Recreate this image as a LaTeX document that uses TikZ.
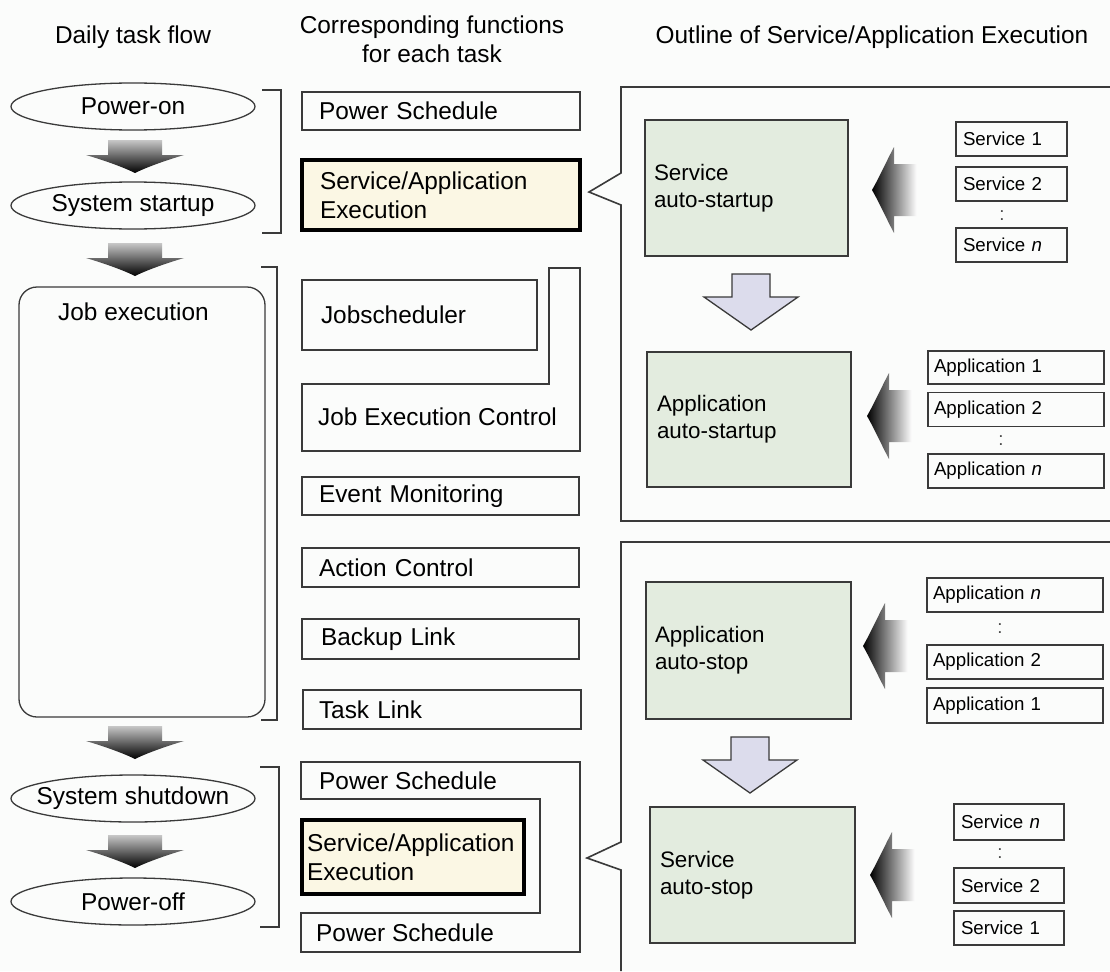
\documentclass[tikz,border=0pt]{standalone}
\usepackage{fontspec}
\setmainfont{Liberation Sans}
\usetikzlibrary{shapes.geometric,calc}
\definecolor{bgc}{HTML}{FBFCFB}
\definecolor{ln}{HTML}{3A3A3A}
\definecolor{cream}{HTML}{FBF7E4}
\definecolor{gfill}{HTML}{E3ECDF}
\definecolor{lav}{HTML}{DCDCEC}
\newcommand{\mainf}{\fontsize{24.4}{29}\selectfont}
\newcommand{\medf}{\fontsize{22.4}{27}\selectfont}
\newcommand{\smf}{\fontsize{18.7}{22}\selectfont}
\tikzset{
  tb/.style n args={3}{rectangle, draw=ln, line width=1.3pt, inner ysep=0pt,
     minimum width=#1pt, minimum height=#2pt, inner xsep=#3pt,
     text width={#1pt-2*#3pt}, align=left, font=\mainf},
  thick box/.style={draw=black, line width=3.5pt, fill=cream},
  gbox/.style={fill=gfill, font=\medf},
  sbox/.style={font=\smf},
  ell/.style={ellipse, draw=ln, line width=1.3pt, minimum width=244pt,
     minimum height=47pt, inner sep=0pt, label={[font=\mainf, inner sep=0pt]center:#1}},
  lbl/.style={anchor=west, inner sep=0pt, font=\mainf},
  hdr/.style={font=\mainf, align=center, inner sep=0pt},
  dots/.style={font=\smf, text=black!70, inner sep=0pt},
  outline/.style={draw=ln, line width=1.3pt},
  panel/.style={draw=ln, line width=1.6pt},
  darrow/.pic={\path[top color=white!78!black, bottom color=black]
     (-27,0) -- (27,0) -- (27,15) -- (49,15) .. controls (32,20) and (12,27) .. (0,33)
     .. controls (-12,27) and (-32,20) .. (-49,15) -- (-27,15) -- cycle;},
  larrow/.pic={\path[left color=black, right color=white]
     (0,0) .. controls (8,-14) and (15,-30) .. (22,-43) -- (22,-26) -- (45,-26)
     -- (45,26) -- (22,26) -- (22,43) .. controls (15,30) and (8,14) .. (0,0) -- cycle;},
  parrow/.pic={\path[fill=lav, draw=ln, line width=1.3pt]
     (-19,0) -- (19,0) -- (19,23) -- (47,23) -- (0,56) -- (-47,23) -- (-19,23) -- cycle;}
}
\begin{document}
\begin{tikzpicture}[x=1pt, y=-1pt]
\useasboundingbox (0,0) rectangle (1110,971);
\fill[bgc] (0,0) rectangle (1110,971);

% headers
\node[hdr] (h1) at (133,37) {Daily task flow};
\node[hdr] (h2) at (432,39) {Corresponding functions\\for each task};
\node[hdr] (h3) at (872,37) {Outline of Service/Application Execution};

% left column
\node[ell={Power-on}] (po) at (133,106.5) {};
\node[ell={System startup}] (sst) at (133,205.5) {};
\node[draw=ln, line width=1.3pt, rounded corners=18pt, minimum width=246pt,
      minimum height=430pt, inner sep=0pt] (je) at (142,502) {};
\node[lbl] (jet) at (58,312) {Job execution};
\node[ell={System shutdown}] (ssd) at (133,798.5) {};
\node[ell={Power-off}] (pof) at (133,901.5) {};

\pic at (135,140) {darrow};
\pic at (135,243) {darrow};
\pic at (135,726) {darrow};
\pic at (135,835) {darrow};

% brackets
\draw[outline] (262,90) -- (281,90) -- (281,233) -- (262,233);
\draw[outline] (261,267) -- (277,267) -- (277,720) -- (261,720);
\draw[outline] (260,767) -- (279,767) -- (279,927) -- (260,927);

% middle column
\node[tb={278}{38}{17}] (ps1) at (441,111) {Power Schedule};
\node[tb={278}{70}{18}, thick box] (sae1) at (441,195) {Service/Application\\Execution};
\node[tb={235}{70}{19}] (jobs) at (419.5,315) {Jobscheduler};
\draw[outline] (302,384) -- (549,384) -- (549,268) -- (580,268) -- (580,451) -- (302,451) -- cycle;
\node[lbl] (jec) at (318,417) {Job Execution Control};
\node[tb={277}{38}{17}] (em) at (440.5,496) {Event Monitoring};
\node[tb={277}{39}{17}] (ac) at (440.5,567.5) {Action Control};
\node[tb={277}{40}{19}] (bl) at (440.5,639) {Backup Link};
\node[tb={278}{39}{16}] (tl) at (442,709.5) {Task Link};
\draw[outline] (301,762) -- (580,762) -- (580,952) -- (301,952) -- (301,913)
   -- (540,913) -- (540,799) -- (301,799) -- cycle;
\node[lbl] (ps2) at (319,781) {Power Schedule};
\node[tb={222}{74}{5}, thick box] (sae2) at (413,857) {Service/Application\\Execution};
\node[lbl] (ps3) at (316,933) {Power Schedule};

% right panels
\draw[panel] (1110,87) -- (621,87) -- (621,173) -- (589,192) -- (621,205) -- (621,521) -- (1110,521);
\draw[panel] (1110,542) -- (621,542) -- (621,842) -- (587,858) -- (621,870) -- (621,971);

% upper panel
\node[tb={203}{136}{9}, gbox] (sas) at (746.5,188) {Service\\auto-startup};
\node[tb={204}{135}{10}, gbox] (aas) at (749,419.5) {Application\\auto-startup};
\pic at (751,274) {parrow};
\pic at (872,190) {larrow};
\pic at (867,416) {larrow};
\node[tb={111}{34}{7}, sbox] (us1) at (1011.5,139) {Service 1};
\node[tb={111}{34}{7}, sbox] (us2) at (1011.5,184) {Service 2};
\node[dots] (ud1) at (1002,216) {:};
\node[tb={111}{34}{7}, sbox] (usn) at (1011.5,245) {Service \textit{n}};
\node[tb={176}{33}{6}, sbox] (ua1) at (1016,367.5) {Application 1};
\node[tb={176}{34}{6}, sbox] (ua2) at (1016,409.5) {Application 2};
\node[dots] (ud2) at (1001,441) {:};
\node[tb={176}{34}{6}, sbox] (uan) at (1016,471) {Application \textit{n}};

% lower panel
\node[tb={205}{137}{9}, gbox] (aast) at (748.5,650.5) {Application\\auto-stop};
\node[tb={205}{136}{10}, gbox] (sast) at (752.5,875) {Service\\auto-stop};
\pic at (750,737) {parrow};
\pic at (863,646) {larrow};
\pic at (870,875) {larrow};
\node[tb={176}{34}{6}, sbox] (lan) at (1015,595) {Application \textit{n}};
\node[dots] (ld1) at (1000,629) {:};
\node[tb={176}{34}{6}, sbox] (la2) at (1015,662) {Application 2};
\node[tb={176}{35}{6}, sbox] (la1) at (1015,705.5) {Application 1};
\node[tb={110}{36}{7}, sbox] (lsn) at (1009,822) {Service \textit{n}};
\node[dots] (ld2) at (1000,854) {:};
\node[tb={110}{35}{7}, sbox] (ls2) at (1009,885.5) {Service 2};
\node[tb={110}{34}{7}, sbox] (ls1) at (1009,928) {Service 1};
\end{tikzpicture}
\end{document}
